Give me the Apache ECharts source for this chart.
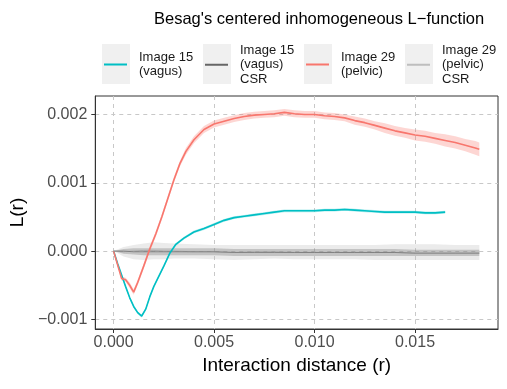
<!DOCTYPE html>
<html>
<head>
<meta charset="utf-8">
<script src="https://cdn.jsdelivr.net/npm/echarts@6/dist/echarts.min.js"></script>
<style>
  html, body { margin: 0; padding: 0; background: #fff; }
  #chart { width: 507px; height: 389px; }
</style>
</head>
<body>
<div id="chart"></div>
<script>
// tick labels
const xTicks = [0, 0.005, 0.01, 0.015]
const yTicks = [-0.001, 0, 0.001, 0.002]

// Image 29 (pelvic)
const pelvicX = [0, 0.0002, 0.0004, 0.0006, 0.0008, 0.001, 0.0012, 0.0015, 0.0018, 0.0021, 0.0024, 0.0027, 0.003, 0.0033, 0.0036, 0.004, 0.0045, 0.005, 0.0055, 0.006, 0.0065, 0.007, 0.0075, 0.008, 0.0085, 0.009, 0.0095, 0.01, 0.0105, 0.011, 0.0115, 0.012, 0.0125, 0.013, 0.0135, 0.014, 0.0145, 0.015, 0.0155, 0.016, 0.0165, 0.017, 0.0175, 0.018, 0.0182]
const pelvicL = [0, -0.0002, -0.0004, -0.00042, -0.0005, -0.0006, -0.00046, -0.00022, 0.00003, 0.00025, 0.0005, 0.00077, 0.00104, 0.00128, 0.00146, 0.00163, 0.00178, 0.00186, 0.0019, 0.00194, 0.00197, 0.00199, 0.002, 0.00201, 0.00203, 0.00201, 0.002, 0.002, 0.00198, 0.00197, 0.00195, 0.00191, 0.00188, 0.00184, 0.0018, 0.00176, 0.00173, 0.0017, 0.00168, 0.00165, 0.00162, 0.00159, 0.00155, 0.00151, 0.00149]
const pelvicLo = [0, -0.00022, -0.00043, -0.00045, -0.00054, -0.00064, -0.0005, -0.00026, -0.00001, 0.00021, 0.00046, 0.00073, 0.001, 0.00124, 0.00141, 0.00158, 0.00173, 0.00181, 0.00185, 0.00189, 0.00192, 0.00194, 0.00195, 0.00196, 0.00198, 0.00196, 0.00195, 0.00195, 0.00193, 0.00192, 0.0019, 0.00185, 0.00182, 0.00178, 0.00173, 0.00169, 0.00166, 0.00162, 0.0016, 0.00157, 0.00153, 0.0015, 0.00146, 0.00141, 0.00139]
const pelvicHi = [0, -0.00018, -0.00037, -0.00039, -0.00046, -0.00056, -0.00042, -0.00018, 0.00007, 0.00029, 0.00054, 0.00081, 0.00108, 0.00132, 0.00151, 0.00168, 0.00183, 0.00191, 0.00195, 0.00199, 0.00202, 0.00204, 0.00205, 0.00206, 0.00208, 0.00206, 0.00205, 0.00205, 0.00203, 0.00202, 0.002, 0.00197, 0.00194, 0.0019, 0.00187, 0.00183, 0.0018, 0.00178, 0.00176, 0.00173, 0.00171, 0.00168, 0.00164, 0.00161, 0.00159]

// Image 15 (vagus)
const vagusX = [0, 0.0002, 0.0004, 0.0006, 0.0008, 0.001, 0.0012, 0.0014, 0.0016, 0.0018, 0.002, 0.0022, 0.0025, 0.0028, 0.0031, 0.0035, 0.004, 0.0045, 0.005, 0.0055, 0.006, 0.0065, 0.007, 0.0075, 0.008, 0.0085, 0.009, 0.0095, 0.01, 0.0105, 0.011, 0.0115, 0.012, 0.0125, 0.013, 0.0135, 0.014, 0.0145, 0.015, 0.0155, 0.016, 0.0165]
const vagusL = [0, -0.00018, -0.00035, -0.00052, -0.00068, -0.00081, -0.0009, -0.00095, -0.00085, -0.00067, -0.00052, -0.0004, -0.00022, -0.00003, 0.0001, 0.00019, 0.00028, 0.00033, 0.00039, 0.00045, 0.00049, 0.00051, 0.00053, 0.00055, 0.00057, 0.00059, 0.00059, 0.00059, 0.00059, 0.0006, 0.0006, 0.00061, 0.0006, 0.00059, 0.00058, 0.00057, 0.00057, 0.00057, 0.00057, 0.00056, 0.00056, 0.00057]
const vagusLo = [0, -0.0002, -0.00037, -0.00054, -0.0007, -0.00083, -0.00092, -0.00097, -0.00087, -0.00069, -0.00054, -0.00042, -0.00024, -0.00005, 0.00008, 0.00017, 0.00026, 0.00031, 0.00037, 0.00043, 0.00047, 0.00049, 0.00051, 0.00053, 0.00055, 0.00057, 0.00057, 0.00057, 0.00057, 0.00058, 0.00058, 0.00059, 0.00058, 0.00057, 0.00056, 0.00055, 0.00055, 0.00055, 0.00055, 0.00054, 0.00054, 0.00055]
const vagusHi = [0, -0.00016, -0.00033, -0.0005, -0.00066, -0.00079, -0.00088, -0.00093, -0.00083, -0.00065, -0.0005, -0.00038, -0.0002, -0.00001, 0.00012, 0.00021, 0.0003, 0.00035, 0.00041, 0.00047, 0.00051, 0.00053, 0.00055, 0.00057, 0.00059, 0.00061, 0.00061, 0.00061, 0.00061, 0.00062, 0.00062, 0.00063, 0.00062, 0.00061, 0.0006, 0.00059, 0.00059, 0.00059, 0.00059, 0.00058, 0.00058, 0.00059]

// CSR envelopes
const csrX = [0, 0.0005, 0.001, 0.0015, 0.002, 0.0025, 0.003, 0.004, 0.005, 0.006, 0.007, 0.008, 0.009, 0.01, 0.011, 0.012, 0.013, 0.014, 0.015, 0.016, 0.017, 0.018, 0.0182]
const pelvicCsrL = [0, -0.00001, 0, 0.00001, 0.00001, 0, 0, -0.00001, -0.00001, -0.00002, -0.00001, -0.00001, -0.00002, -0.00002, -0.00002, -0.00002, -0.00002, -0.00002, -0.00003, -0.00003, -0.00003, -0.00003, -0.00003]
const pelvicCsrLo = [0, -0.00008, -0.00012, -0.00013, -0.00012, -0.00012, -0.00011, -0.00011, -0.00012, -0.00013, -0.00012, -0.00011, -0.00012, -0.00012, -0.00012, -0.00012, -0.00013, -0.00013, -0.00013, -0.00013, -0.00013, -0.00013, -0.00013]
const pelvicCsrHi = [0, 0.00006, 0.00009, 0.00011, 0.00013, 0.00012, 0.00011, 0.0001, 0.00009, 0.00009, 0.00009, 0.00009, 0.00009, 0.00009, 0.00009, 0.00009, 0.00009, 0.0001, 0.0001, 0.0001, 0.00009, 0.00009, 0.00009]
const vagusCsrL = [0, 0, -0.00001, -0.00001, -0.00001, -0.00001, -0.00001, -0.00001, -0.00001, -0.00002, -0.00002, -0.00002, -0.00002, -0.00002, -0.00002, -0.00002, -0.00002, -0.00002, -0.00003, -0.00003, -0.00003, -0.00003, -0.00003]
const vagusCsrLo = [0, -0.00004, -0.00005, -0.00006, -0.00006, -0.00006, -0.00006, -0.00006, -0.00006, -0.00007, -0.00007, -0.00007, -0.00007, -0.00007, -0.00007, -0.00007, -0.00007, -0.00007, -0.00007, -0.00007, -0.00007, -0.00007, -0.00007]
const vagusCsrHi = [0, 0.00003, 0.00004, 0.00004, 0.00004, 0.00004, 0.00004, 0.00004, 0.00004, 0.00003, 0.00003, 0.00003, 0.00003, 0.00003, 0.00003, 0.00003, 0.00003, 0.00003, 0.00002, 0.00002, 0.00002, 0.00002, 0.00002]

const names = ['Image 15\n(vagus)', 'Image 15\n(vagus)\nCSR', 'Image 29\n(pelvic)', 'Image 29\n(pelvic)\nCSR']
const colors = ['#00BFC4', '#666666', '#F8766D', '#BEBEBE']

const font = 'Liberation Sans, Arial, Helvetica, sans-serif'

function pairs(xs, ys) {
  return xs.map((x, i) => [x, ys[i]])
}

// ribbon drawn as one polygon through the axis scales
function band(xs, lo, hi, color, opacity) {
  return {
    type: 'custom',
    silent: true,
    clip: true,
    z: 2,
    data: xs.map((x, i) => [x, lo[i], hi[i]]),
    encode: { x: 0, y: [1, 2] },
    renderItem: function(params, api) {
      if (params.dataIndex !== 0) return null
      const pts = []
      for (let i = 0; i < xs.length; i++) pts.push(api.coord([xs[i], hi[i]]))
      for (let i = xs.length - 1; i >= 0; i--) pts.push(api.coord([xs[i], lo[i]]))
      return {
        type: 'polygon',
        shape: { points: pts },
        style: { fill: color, opacity: opacity }
      }
    }
  }
}

function line(name, xs, ys, color, width, z) {
  return {
    type: 'line',
    name: name,
    data: pairs(xs, ys),
    showSymbol: false,
    color: color,
    lineStyle: { color: color, width: width },
    z: z
  }
}

function fmt(v) {
  return (v < 0 ? '\u2212' : '') + Math.abs(v).toFixed(3)
}

const keyLeft = [102, 203, 304, 405]
const legends = names.map((n, i) => ({
  data: [n],
  left: keyLeft[i] + 2,
  top: n.split('\n').length === 3 ? 43 : 50,
  padding: 0,
  icon: 'rect',
  itemWidth: 23,
  itemHeight: 2,
  selectedMode: false,
  textStyle: { fontFamily: font, fontSize: 13, color: '#1a1a1a', lineHeight: 14.5, padding: [0, 0, 0, 7] }
}))

const chart = echarts.init(document.getElementById('chart'))
chart.setOption({
  animation: false,
  title: {
    text: 'Besag\'s centered inhomogeneous L\u2212function',
    left: 149,
    top: 6,
    textStyle: { fontFamily: font, fontSize: 16.5, fontWeight: 'normal', color: '#000' }
  },
  graphic: keyLeft.map(x => ({
    type: 'rect',
    shape: { x: x, y: 44, width: 28, height: 40 },
    style: { fill: '#f0f0f0' },
    z: 1
  })),
  legend: legends,
  grid: {
    left: 91,
    right: 9,
    top: 96,
    bottom: 60,
    show: true,
    borderColor: '#333',
    borderWidth: 1
  },
  xAxis: {
    type: 'value',
    min: -0.00091,
    max: 0.01913,
    name: 'Interaction distance (r)',
    nameLocation: 'middle',
    nameGap: 24,
    nameTextStyle: { fontFamily: font, fontSize: 19, color: '#000' },
    axisLine: { show: true, onZero: false, lineStyle: { color: '#333' } },
    axisTick: { show: true, length: 4, customValues: xTicks, lineStyle: { color: '#333' } },
    axisLabel: { customValues: xTicks, formatter: fmt, margin: 6, fontFamily: font, fontSize: 16, color: '#4d4d4d' },
    splitLine: { show: true, lineStyle: { color: '#c8c8c8', type: [4, 4] } }
  },
  yAxis: {
    type: 'value',
    min: -0.00114,
    max: 0.00227,
    name: 'L(r)',
    nameLocation: 'middle',
    nameGap: 64,
    nameTextStyle: { fontFamily: font, fontSize: 19, color: '#000' },
    axisLine: { show: true, onZero: false, lineStyle: { color: '#333' } },
    axisTick: { show: true, length: 4, customValues: yTicks, lineStyle: { color: '#333' } },
    axisLabel: { customValues: yTicks, formatter: fmt, margin: 8, fontFamily: font, fontSize: 16, color: '#4d4d4d' },
    splitLine: { show: true, lineStyle: { color: '#c8c8c8', type: [4, 4] } }
  },
  series: [
    // CSR lines sit under their envelopes
    line(names[3], csrX, pelvicCsrL, colors[3], 0.8, 1),
    line(names[1], csrX, vagusCsrL, colors[1], 0.8, 1),
    band(csrX, pelvicCsrLo, pelvicCsrHi, '#bebebe', 0.3),
    band(csrX, vagusCsrLo, vagusCsrHi, '#666666', 0.3),
    band(pelvicX, pelvicLo, pelvicHi, '#F8766D', 0.3),
    band(vagusX, vagusLo, vagusHi, '#00BFC4', 0.3),
    line(names[0], vagusX, vagusL, colors[0], 1.6, 3),
    line(names[2], pelvicX, pelvicL, colors[2], 1.6, 3)
  ]
})
</script>
</body>
</html>
